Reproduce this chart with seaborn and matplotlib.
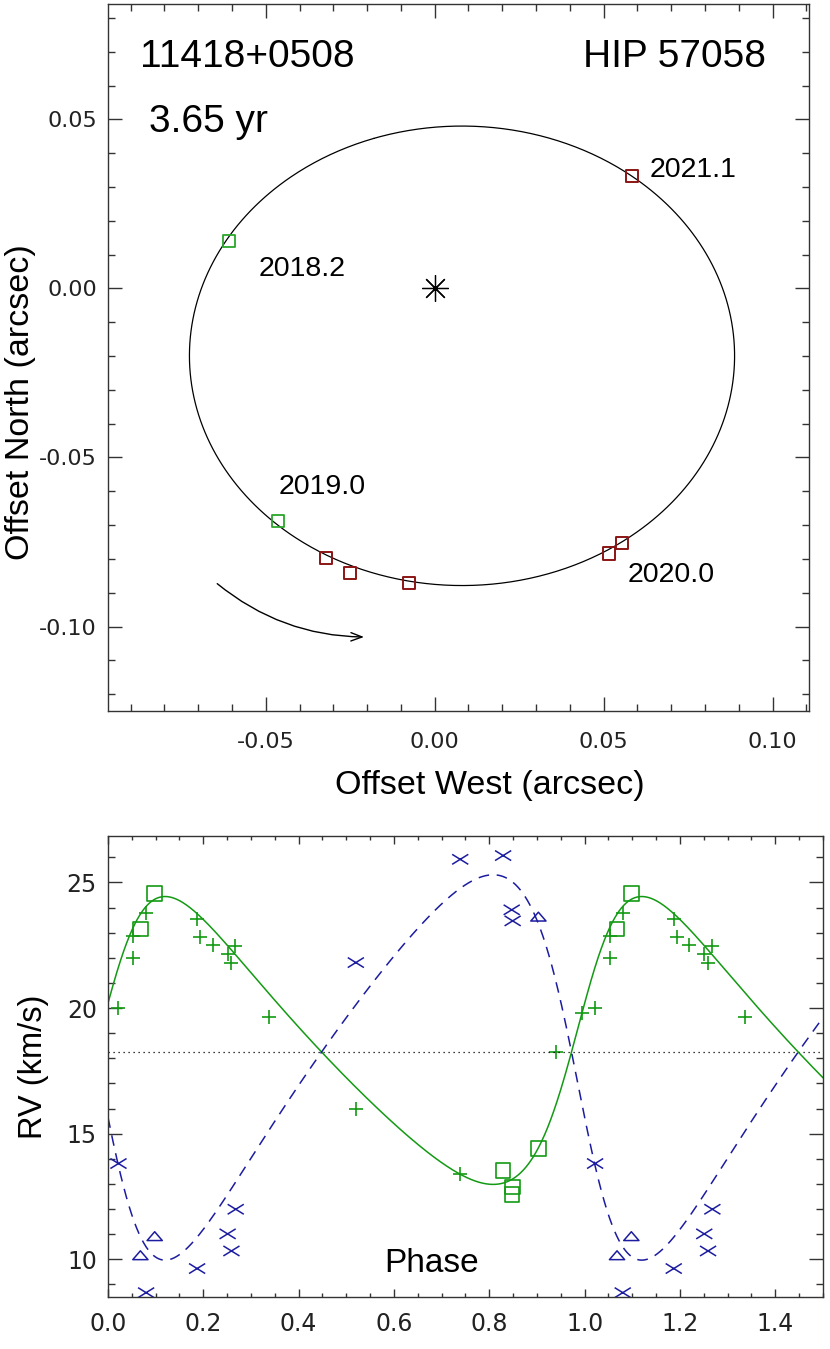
import numpy as np
import pandas as pd
import seaborn as sns
import matplotlib.pyplot as plt
from matplotlib.path import Path
from matplotlib.patches import FancyArrowPatch
from matplotlib.ticker import MultipleLocator, FormatStrFormatter

# ---------------------------------------------------------------------------
# orbital elements
period = 3.65          # yr
ecc = 0.31
omega_deg = 285.0
k1, k2, v0 = 5.73, 7.67, 18.25
# Thiele-Innes constants (arcsec): North = A*x + F*y, West = B*x + G*y
ti_a, ti_b, ti_f, ti_g = 0.0643, -0.0261, -0.0231, -0.0803

# resolved measurements (arcsec)
green_west = [-0.0609, -0.0464]
green_north = [0.0139, -0.0689]
red_west = [-0.0322, -0.0250, -0.0075, 0.0516, 0.0555, 0.0584]
red_north = [-0.0796, -0.0843, -0.0870, -0.0784, -0.0753, 0.0333]
epoch_labels = ["2018.2", "2019.0", "2020.0", "2021.1"]

# radial velocities (phase, km/s)
p1_phase = [0.022, 0.053, 0.053, 0.080, 0.187, 0.193, 0.220, 0.251, 0.259, 0.267,
            0.337, 0.520, 0.739, 0.940, 0.994]
p1_rv = [20.01, 22.00, 22.85, 23.79, 23.53, 22.84, 22.51, 22.17, 21.79, 22.48,
         19.65, 15.99, 13.41, 18.25, 19.79]
p1b_phase = [0.068, 0.098, 0.829, 0.849, 0.848, 0.903]
p1b_rv = [23.15, 24.57, 13.54, 12.88, 12.57, 14.40]
p2_phase = [0.022, 0.080, 0.187, 0.251, 0.259, 0.268, 0.520, 0.739, 0.829, 0.847, 0.849]
p2_rv = [13.81, 8.67, 9.63, 11.01, 10.33, 11.99, 21.81, 25.92, 26.07, 23.91, 23.47]
p2b_phase = [0.068, 0.098, 0.903]
p2b_rv = [10.16, 10.92, 23.64]

GREEN = "#139a13"
BLUE = "#1c1ca0"
RED = "#8b1414"


def kepler_nu(mean_anom):
    ea = np.array(mean_anom, dtype=float)
    for _ in range(40):
        ea = ea - (ea - ecc * np.sin(ea) - mean_anom) / (1 - ecc * np.cos(ea))
    nu = 2 * np.arctan(np.sqrt((1 + ecc) / (1 - ecc)) * np.tan(ea / 2))
    return ea, nu


def unfold(phase, rv):
    # repeat the first half of the cycle after phase 1
    df = pd.DataFrame({"phase": phase, "rv": rv})
    extra = df[df.phase + 1 <= 1.5].assign(phase=lambda d: d.phase + 1)
    return pd.concat([df, extra], ignore_index=True)


# model curves
ea_grid = np.linspace(0, 2 * np.pi, 721)
xo = np.cos(ea_grid) - ecc
yo = np.sqrt(1 - ecc ** 2) * np.sin(ea_grid)
orbit = pd.DataFrame({"west": ti_b * xo + ti_g * yo, "north": ti_a * xo + ti_f * yo})

ph_grid = np.linspace(0, 1.5, 1201)
_, nu = kepler_nu(2 * np.pi * ph_grid)
w = np.radians(omega_deg)
shape = np.cos(nu + w) + ecc * np.cos(w)
rvmod = pd.DataFrame({"phase": ph_grid, "v1": v0 + k1 * shape, "v2": v0 - k2 * shape})

# ---------------------------------------------------------------------------
sns.set_style("ticks")
plt.rcParams["font.family"] = ["Liberation Sans", "DejaVu Sans"]
plt.rcParams["text.color"] = "black"
plt.rcParams["axes.labelcolor"] = "black"
plt.rcParams["xtick.direction"] = "in"
plt.rcParams["ytick.direction"] = "in"

fig = plt.figure(figsize=(8.3, 13.49), dpi=100)
ax1 = fig.add_axes([0.1301, 0.4729, 0.8446, 0.5241])
ax2 = fig.add_axes([0.1301, 0.0386, 0.8614, 0.3417])

# --- top panel: visual orbit
sns.lineplot(data=orbit, x="west", y="north", sort=False, estimator=None,
             color="black", lw=0.9, ax=ax1)
sns.scatterplot(x=green_west, y=green_north, marker="s", s=75, facecolor="none",
                edgecolor="#2aa62a", linewidth=1.3, ax=ax1, zorder=3)
sns.scatterplot(x=red_west, y=red_north, marker="s", s=75, facecolor="none",
                edgecolor=RED, linewidth=1.4, ax=ax1, zorder=3)
ax1.plot([0], [0], marker=(8, 2, 0), ms=19, color="black", mew=0.9, ls="none")

label_pos = [(-0.0522, 0.0037), (-0.0461, -0.0609), (0.0572, -0.0868), (0.0637, 0.0330)]
for txt, (lx, ly) in zip(epoch_labels, label_pos):
    ax1.text(lx, ly, txt, fontsize=20.5, ha="left", va="baseline")

ax1.add_patch(FancyArrowPatch((-0.065, -0.0868), (-0.0201, -0.1031),
                              connectionstyle="arc3,rad=0.18", arrowstyle="->,head_length=8,head_width=3",
                              color="black", lw=1.0))

ax1.text(0.046, 0.911, "11418+0508", transform=ax1.transAxes, fontsize=28)
ax1.text(0.939, 0.911, "HIP 57058", transform=ax1.transAxes, fontsize=28, ha="right")
ax1.text(0.058, 0.819, "3.65 yr", transform=ax1.transAxes, fontsize=28)

ax1.set_xlim(-0.0967, 0.1108)
ax1.set_ylim(-0.125, 0.0841)
ax1.xaxis.set_major_locator(MultipleLocator(0.05))
ax1.xaxis.set_minor_locator(MultipleLocator(0.01))
ax1.yaxis.set_major_locator(MultipleLocator(0.05))
ax1.yaxis.set_minor_locator(MultipleLocator(0.01))
ax1.xaxis.set_major_formatter(FormatStrFormatter("%.2f"))
ax1.yaxis.set_major_formatter(FormatStrFormatter("%.2f"))
ax1.set_xlabel("Offset West (arcsec)", fontsize=24.5)
ax1.set_ylabel("Offset North (arcsec)", fontsize=24.5)
ax1.xaxis.set_label_coords(0.545, -0.084)
ax1.yaxis.set_label_coords(-0.103, 0.437)
ax1.tick_params(which="both", top=True, right=True, width=1.0, color="#333333",
                labelsize=16, labelcolor="#222222")
ax1.tick_params(which="major", length=10)
ax1.tick_params(which="minor", length=5)
ax1.tick_params(axis="x", pad=15)
ax1.tick_params(axis="y", pad=8)

# --- bottom panel: radial velocities
x_mark = Path([(-1, -0.62), (1, 0.62), (-1, 0.62), (1, -0.62)],
              [Path.MOVETO, Path.LINETO, Path.MOVETO, Path.LINETO])
tri_mark = Path([(-1, -0.58), (0, 0.58), (1, -0.58), (-1, -0.58)],
                [Path.MOVETO, Path.LINETO, Path.LINETO, Path.CLOSEPOLY])

ax2.axhline(v0, color="black", ls=(0, (1, 3)), lw=0.9)
sns.lineplot(data=rvmod, x="phase", y="v1", color=GREEN, lw=1.1, ax=ax2)
sns.lineplot(data=rvmod, x="phase", y="v2", color=BLUE, lw=1.1, ax=ax2)
ax2.lines[-1].set_linestyle((0, (7, 5)))

d = unfold(p1_phase, p1_rv)
sns.scatterplot(data=d, x="phase", y="rv", marker="+", s=95, color=GREEN, linewidth=1.2, ax=ax2)
d = unfold(p1b_phase, p1b_rv)
sns.scatterplot(data=d, x="phase", y="rv", marker="s", s=110, facecolor="none",
                edgecolor=GREEN, linewidth=1.2, ax=ax2)
d = unfold(p2_phase, p2_rv)
sns.scatterplot(data=d, x="phase", y="rv", marker=x_mark, s=135, facecolor="none",
                edgecolor=BLUE, linewidth=1.1, ax=ax2)
d = unfold(p2b_phase, p2b_rv)
sns.scatterplot(data=d, x="phase", y="rv", marker=tri_mark, s=120, facecolor="none",
                edgecolor=BLUE, linewidth=1.1, ax=ax2)

ax2.text(0.452, 0.054, "Phase", transform=ax2.transAxes, fontsize=24, ha="center")
ax2.set_xlim(0, 1.5)
ax2.set_ylim(8.5, 26.85)
ax2.xaxis.set_major_locator(MultipleLocator(0.2))
ax2.xaxis.set_minor_locator(MultipleLocator(0.05))
ax2.yaxis.set_major_locator(MultipleLocator(5))
ax2.yaxis.set_minor_locator(MultipleLocator(1))
ax2.xaxis.set_major_formatter(FormatStrFormatter("%.1f"))
ax2.set_xlabel(None)
ax2.set_ylabel("RV (km/s)", fontsize=23.5)
ax2.yaxis.set_label_coords(-0.082, 0.5)
ax2.tick_params(which="both", top=True, right=True, width=1.0, color="#333333",
                labelsize=17, labelcolor="#222222")
ax2.tick_params(axis="y", which="major", length=10, pad=8)
ax2.tick_params(axis="y", which="minor", length=5)
ax2.tick_params(axis="x", which="major", length=6, pad=11)
ax2.tick_params(axis="x", which="minor", length=3)

for ax in (ax1, ax2):
    for lbl in ax.get_xticklabels() + ax.get_yticklabels():
        lbl.set_fontfamily("DejaVu Sans")
    for sp in ax.spines.values():
        sp.set_linewidth(1.0)
        sp.set_color("#333333")
    if ax.get_legend():
        ax.get_legend().remove()

fig.savefig("out.png", dpi=100)
